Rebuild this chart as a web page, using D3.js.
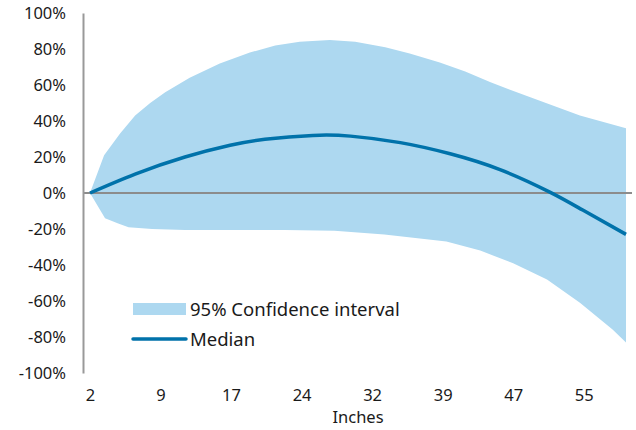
<!DOCTYPE html>
<html lang="en">
<head>
<meta charset="UTF-8">
<script src="https://d3js.org/d3.v7.min.js"></script>
<title>Chart</title>
<style>
    body { margin: 0; background: #fff; }
    text { font-family: "Noto Sans", "Open Sans", sans-serif; fill: #1a1a1a; }
</style>
</head>
<body>
<div id="container"></div>
<script>
    // band data (inches, % change)
    var bandX     = [2, 3.5, 5.2, 6.8, 8.4, 10, 12.6, 15.8, 19, 21.7, 24.3, 27.5, 30.2, 33.4, 36, 39.2, 41.9, 44.6, 48.9, 54.1, 59];
    var bandUpper = [0, 21, 33, 43, 50, 56, 64, 72, 78, 82, 84, 85, 84, 81, 77.5, 72.5, 67.5, 61.5, 53, 43, 36];
    var lowerX    = [2, 3.6, 5, 6.1, 8.6, 12.1, 22.7, 28, 33.3, 39.9, 43.5, 47, 50.6, 54.1, 57.6, 59];
    var bandLower = [0, -14, -17, -19, -20, -20.5, -20.5, -21, -23, -27, -32, -39, -48, -61, -76, -83];
    // median
    var medX   = [2, 6.8, 12.1, 16.9, 20.6, 25.7, 29.7, 35, 40.3, 45.6, 50.9, 54.4, 59];
    var median = [0, 10.5, 20, 26.5, 29.8, 32, 31.6, 28, 21.8, 13, 0.5, -9.5, -23];
    // axis ticks
    var xTickVals   = [2, 9.5, 17, 24.5, 32, 39.5, 47, 54.5];
    var xTickLabels = ["2", "9", "17", "24", "32", "39", "47", "55"];
    var yTicks = [100, 80, 60, 40, 20, 0, -20, -40, -60, -80, -100];

    var W = 636, H = 430;
    var svg = d3.select("#container").append("svg")
        .attr("width", W).attr("height", H);

    var x = d3.scaleLinear().domain([2, 59]).range([90, 626]);
    var y = d3.scaleLinear().domain([-100, 100]).range([373, 13]);

    // confidence band
    var upperPts = bandX.map(function(d, i){ return [x(d), y(bandUpper[i])]; });
    var lowerPts = lowerX.map(function(d, i){ return [x(d), y(bandLower[i])]; }).reverse();
    svg.append("path")
        .attr("d", d3.line()(upperPts.concat(lowerPts)) + "Z")
        .attr("fill", "#add8f0");

    // zero line
    svg.append("line")
        .attr("x1", 83).attr("x2", 632)
        .attr("y1", y(0)).attr("y2", y(0))
        .attr("stroke", "#8c8c8c").attr("stroke-width", 2);

    // median
    var medLine = d3.line()
        .x(function(d, i){ return x(medX[i]); })
        .y(function(d){ return y(d); })
        .curve(d3.curveNatural);
    svg.append("path")
        .attr("d", medLine(median))
        .attr("fill", "none")
        .attr("stroke", "#0072aa")
        .attr("stroke-width", 3.5);

    // y axis
    var yAxis = svg.append("g")
        .attr("transform", "translate(83,0)")
        .call(d3.axisLeft(y).tickValues(yTicks).tickSize(0).tickPadding(17)
            .tickFormat(function(d){ return d + "%"; }));
    yAxis.select(".domain").attr("stroke", "#999").attr("stroke-width", 2);
    yAxis.selectAll("text").style("font-size", "16.5px");

    // x axis labels
    var xAxis = svg.append("g")
        .attr("transform", "translate(0,383)")
        .call(d3.axisBottom(x).tickValues(xTickVals).tickSize(0).tickPadding(6)
            .tickFormat(function(d, i){ return xTickLabels[i]; }));
    xAxis.select(".domain").remove();
    xAxis.selectAll("text").style("font-size", "16.5px");

    svg.append("text")
        .attr("x", 358).attr("y", 423)
        .attr("text-anchor", "middle")
        .style("font-size", "16.5px")
        .text("Inches");

    // legend
    var lg = svg.append("g").attr("transform", "translate(133,0)");
    lg.append("rect").attr("x", 0).attr("y", 303).attr("width", 53).attr("height", 12).attr("fill", "#add8f0");
    lg.append("text").attr("x", 57).attr("y", 316).style("font-size", "18.5px").text("95% Confidence interval");
    lg.append("line").attr("x1", 0).attr("x2", 53).attr("y1", 339).attr("y2", 339)
        .attr("stroke", "#0072aa").attr("stroke-width", 3.5).attr("stroke-linecap", "round");
    lg.append("text").attr("x", 57).attr("y", 346).style("font-size", "18.5px").text("Median");
</script>
</body>
</html>
